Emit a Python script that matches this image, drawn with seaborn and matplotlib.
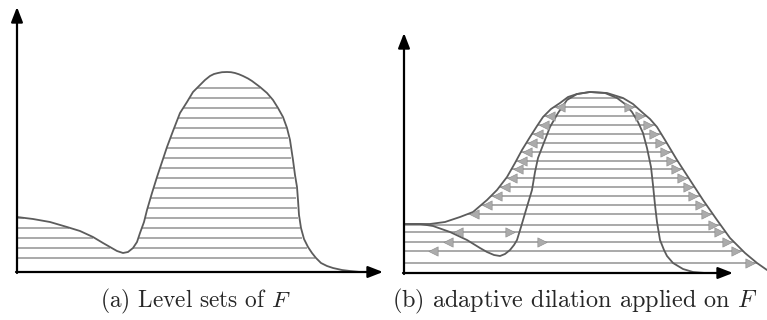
import numpy as np
import pandas as pd
import matplotlib
matplotlib.use("Agg")
import matplotlib.pyplot as plt
import seaborn as sns

# curve F in panel (a) in pixels (x, y)
a_px = [17, 33, 50, 67, 80, 93, 103, 110, 117, 123, 128, 133, 137, 140, 144, 147, 152, 157,
        162, 167, 173, 180, 187, 193, 200, 205, 210, 214, 218, 222, 227, 231, 235, 239, 243,
        248, 252, 256, 260, 267, 273, 278, 283, 287, 290, 293, 295, 297, 298, 299, 301, 304,
        308, 312, 316, 321, 327, 333, 342, 350, 360]
a_py = [217, 219, 222, 227, 231, 237, 243, 247, 251, 253, 252, 248, 242, 233, 222, 210, 193, 177,
        162, 147, 131, 113, 102, 92, 85, 80, 76, 74, 73, 72.2, 72, 72.2, 73, 74.3, 76,
        78.5, 81, 84, 87, 93, 100, 108, 117, 128, 140, 160, 175, 187, 200, 215, 228, 239,
        247, 253, 258, 263, 266, 268, 270, 271, 272]
a_origin = (17, 272)
a_levels = [14, 24, 34, 44, 54, 64, 74, 84, 94, 104, 114, 124, 134, 144, 154, 164, 174, 184]

# panel (b): original F and its dilation
b_in_px = [404, 420, 433, 450, 467, 480, 487, 494, 500, 505, 510, 514, 517, 521, 526, 532, 535,
           538, 543, 550, 558, 567, 577, 590, 605, 617, 625, 632, 638, 643, 647, 651, 653, 655,
           657, 660, 664, 667, 673, 683, 693, 705]
b_in_py = [224, 224, 226, 232, 240, 248, 252, 255, 256, 254, 250, 245, 240, 227, 210, 190, 172,
           158, 145, 127, 113, 100, 94, 92, 93, 98, 104, 112, 122, 133, 148, 167, 185, 205,
           222, 240, 250, 256, 263, 269, 272, 273]
b_out_px = [404, 430, 445, 460, 473, 487, 497, 507, 515, 522, 530, 537, 543, 551, 560, 568, 577,
            590, 607, 623, 633, 643, 650, 657, 665, 677, 690, 703, 717, 730, 745, 757, 767]
b_out_py = [224, 224, 222, 217, 212, 200, 190, 177, 163, 150, 137, 126, 117, 109, 103, 97, 94,
            92, 93, 98, 104, 113, 119, 127, 140, 160, 180, 200, 220, 238, 253, 263, 270]
b_origin = (404, 273)
b_levels = [10, 22, 31, 41, 48.5, 59, 68, 77, 86, 95, 104, 112, 121, 130, 139, 148, 157, 166, 175]

# extra arrows in the dip of panel (b)
dip_left_px = [433, 448, 458]
dip_left_h = [22, 31, 41]
dip_right_px = [510, 542]
dip_right_h = [41, 31]


def to_df(px, py, origin):
    return pd.DataFrame({"x": np.array(px) - origin[0], "h": origin[1] - np.array(py)})


def level_segments(xs, hs, level):
    segs = []
    start = None
    for i in range(len(xs)):
        up = hs[i] > level
        if up and start is None:
            if i == 0:
                start = xs[0]
            else:
                t = (level - hs[i - 1]) / (hs[i] - hs[i - 1])
                start = xs[i - 1] + t * (xs[i] - xs[i - 1])
        elif not up and start is not None:
            t = (level - hs[i - 1]) / (hs[i] - hs[i - 1])
            segs.append((start, xs[i - 1] + t * (xs[i] - xs[i - 1])))
            start = None
    if start is not None:
        segs.append((start, xs[-1]))
    return segs


sns.set_style("white")
plt.rcParams["mathtext.fontset"] = "cm"

fig = plt.figure(figsize=(7.67, 3.2), dpi=100)
ax_a = fig.add_axes([0, 0, 390 / 767, 1])
ax_b = fig.add_axes([390 / 767, 0, 377 / 767, 1])

line_col = "#a2a2a2"
curve_col = "#5c5c5c"

# ---- panel (a)
fa = to_df(a_px, a_py, a_origin)
for lv in a_levels:
    for s, e in level_segments(fa["x"].values, fa["h"].values, lv):
        ax_a.hlines(lv, s, e - 1.5, color=line_col, lw=1.3)
sns.lineplot(data=fa, x="x", y="h", sort=False, estimator=None, color=curve_col, lw=1.3, ax=ax_a)
ax_a.set_xlim(-17, 373)
ax_a.set_ylim(272 - 320, 272)

# ---- panel (b)
fi = to_df(b_in_px, b_in_py, b_origin)
fo = to_df(b_out_px, b_out_py, b_origin)
ox, oh = fo["x"].values, fo["h"].values
left_arr, right_arr = [], []
for lv in b_levels:
    segs = level_segments(ox, oh, lv)
    for s, e in segs:
        ax_b.hlines(lv, s, min(e, 363), color=line_col, lw=1.3)
    if 55 < lv < 170:
        left_arr.append((segs[0][0] + 6, lv))
    if lv < 170:
        right_arr.append((segs[-1][1] - 7, lv))
for x, h in zip(dip_left_px, dip_left_h):
    left_arr.append((x - b_origin[0], h))
for x, h in zip(dip_right_px, dip_right_h):
    right_arr.append((x - b_origin[0], h))

la = pd.DataFrame(left_arr, columns=["x", "h"])
ra = pd.DataFrame(right_arr, columns=["x", "h"])
sns.scatterplot(data=la, x="x", y="h", marker="<", s=45, color="#ababab", edgecolor="#8a8a8a",
                linewidth=0.4, ax=ax_b, zorder=3)
sns.scatterplot(data=ra, x="x", y="h", marker=">", s=45, color="#ababab", edgecolor="#8a8a8a",
                linewidth=0.4, ax=ax_b, zorder=3)
sns.lineplot(data=fi, x="x", y="h", sort=False, estimator=None, color=curve_col, lw=1.3, ax=ax_b)
sns.lineplot(data=fo, x="x", y="h", sort=False, estimator=None, color=curve_col, lw=1.3, ax=ax_b)
ax_b.set_xlim(-14, 363)
ax_b.set_ylim(273 - 320, 273)

# axes with arrow heads
arrow = dict(arrowstyle="-|>,head_length=0.9,head_width=0.35", color="black", lw=1.6,
             shrinkA=0, shrinkB=0)
ax_a.annotate("", xy=(0, 265), xytext=(0, -1), arrowprops=arrow)
ax_a.annotate("", xy=(366, 0), xytext=(-1, 0), arrowprops=arrow)
ax_b.annotate("", xy=(0, 240), xytext=(0, -1), arrowprops=arrow)
ax_b.annotate("", xy=(329, 0), xytext=(-1, 0), arrowprops=arrow)

for ax in (ax_a, ax_b):
    ax.set_axis_off()
    ax.set_xlabel("")
    ax.set_ylabel("")

fig.text(100 / 767, 13 / 320, "(a) Level sets of $F$", family="cmr10", fontsize=16.8,
         va="baseline", ha="left")
fig.text(392 / 767, 13 / 320, "(b) adaptive dilation applied on $F$", family="cmr10",
         fontsize=17.4, va="baseline", ha="left")

fig.savefig("out.png", dpi=100)
